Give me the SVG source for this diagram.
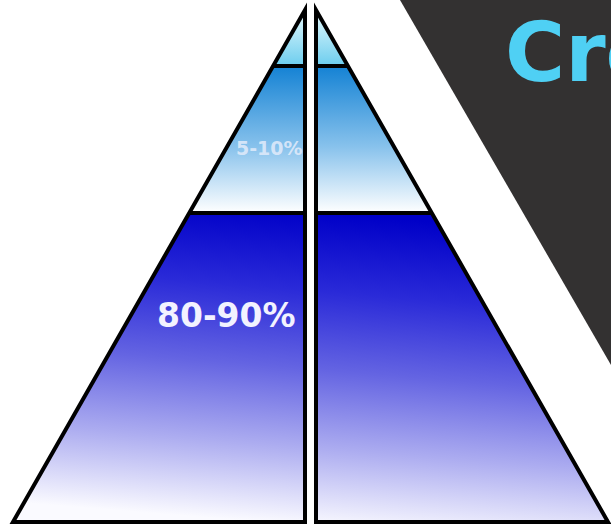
<svg xmlns="http://www.w3.org/2000/svg" width="611" height="527" viewBox="0 0 611 527">
  <style>
    .edge { fill: none; stroke: #000; stroke-width: 4; stroke-linejoin: miter; }
    .pct { font-family: "DejaVu Sans", "Liberation Sans", sans-serif; font-weight: bold; }
    .title { font-family: "DejaVu Sans", "Liberation Sans", sans-serif; font-weight: bold; fill: #4fd0f4; }
  </style>
  <defs>
    <linearGradient id="gTip" x1="0" y1="10" x2="0" y2="66" gradientUnits="userSpaceOnUse">
      <stop offset="0" stop-color="#e8fafd"/>
      <stop offset="1" stop-color="#6ccdee"/>
    </linearGradient>
    <linearGradient id="gMid" x1="0" y1="66" x2="0" y2="213" gradientUnits="userSpaceOnUse">
      <stop offset="0" stop-color="#1482d4"/>
      <stop offset="0.55" stop-color="#88c2ec"/>
      <stop offset="1" stop-color="#ffffff"/>
    </linearGradient>
    <linearGradient id="gLow" x1="325" y1="213" x2="300" y2="525" gradientUnits="userSpaceOnUse">
      <stop offset="0" stop-color="#0000c8"/>
      <stop offset="0.25" stop-color="#2a2ad8"/>
      <stop offset="0.5" stop-color="#6464e2"/>
      <stop offset="0.75" stop-color="#acacf0"/>
      <stop offset="1" stop-color="#fafaff"/>
    </linearGradient>
    <clipPath id="cl"><polygon points="305,10 13,522 305,522"/></clipPath>
    <clipPath id="cr"><polygon points="316,10 316,522 608,522"/></clipPath>
  </defs>

  <rect x="0" y="0" width="611" height="527" fill="#ffffff"/>

  <g id="backdrop">
    <polygon points="400,0 611,0 611,365" fill="#333131"/>
    <text class="title" x="505" y="81" font-size="82">Cro</text>
  </g>

  <g id="left-half">
    <g clip-path="url(#cl)">
      <rect x="0" y="0" width="320" height="66" fill="url(#gTip)"/>
      <rect x="0" y="66" width="320" height="147" fill="url(#gMid)"/>
      <rect x="0" y="213" width="320" height="314" fill="url(#gLow)"/>
    </g>
    <polygon class="edge" points="305,10 13,522 305,522"/>
    <line class="edge" x1="273" y1="66" x2="305" y2="66"/>
    <line class="edge" x1="189" y1="213" x2="305" y2="213"/>
  </g>

  <g id="right-half">
    <g clip-path="url(#cr)">
      <rect x="300" y="0" width="320" height="66" fill="url(#gTip)"/>
      <rect x="300" y="66" width="320" height="147" fill="url(#gMid)"/>
      <rect x="300" y="213" width="320" height="314" fill="url(#gLow)"/>
    </g>
    <polygon class="edge" points="316,10 316,522 608,522"/>
    <line class="edge" x1="316" y1="66" x2="348" y2="66"/>
    <line class="edge" x1="316" y1="213" x2="432" y2="213"/>
  </g>

  <g id="labels">
    <text class="pct" x="236" y="155" font-size="19" fill="#dfeafa" fill-opacity="0.9">5-10%</text>
    <text class="pct" x="157" y="327" font-size="33" fill="#f2f2ff">80-90%</text>
  </g>
</svg>
